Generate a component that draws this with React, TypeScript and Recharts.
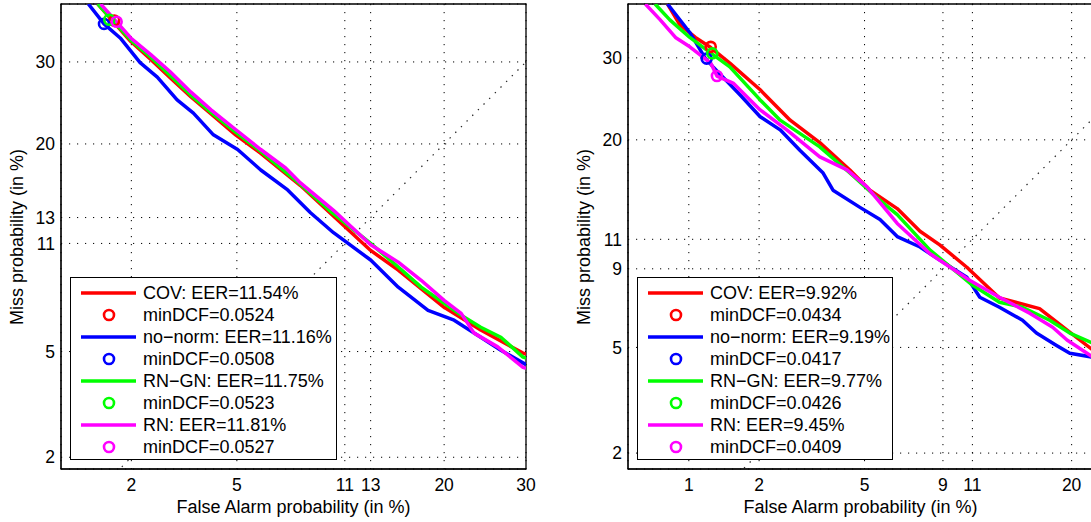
import React from "react";
import {
  ComposedChart,
  Line,
  Scatter,
  XAxis,
  YAxis,
  CartesianGrid,
  ReferenceArea,
} from "recharts";

const COLORS = {
  cov: "#ff0000",
  noNorm: "#0000ff",
  rnGn: "#00ff00",
  rn: "#ff00ff",
};

const FONT = "'Liberation Sans', Arial, Helvetica, sans-serif";

// left panel: false alarm % / miss %
const leftCovFa = [1.45, 1.99, 2.4, 2.85, 3.41, 4.05, 4.95, 6.03, 8.1, 10.3, 13.0, 15.4, 20.0, 24.2, 29.6, 30];
const leftCovMiss = [38.2, 32.8, 30.3, 27.9, 25.5, 23.4, 21.0, 19.0, 15.8, 13.0, 10.5, 9.18, 7.03, 5.92, 4.94, 4.9];
const leftNoNormFa = [1.32, 1.54, 1.8, 2.17, 2.54, 3.03, 3.49, 4.13, 5.03, 6.03, 7.38, 8.7, 10.2, 13.0, 15.4, 18.3, 21.1, 24.2, 26.7, 30];
const leftNoNormMiss = [38.2, 35.3, 33.3, 29.9, 28.0, 25.1, 23.5, 21.0, 19.4, 17.3, 15.4, 13.4, 11.8, 9.84, 8.14, 6.87, 6.38, 5.6, 5.05, 4.5];
const leftRnGnFa = [1.45, 1.99, 2.4, 2.85, 3.41, 4.05, 4.95, 6.03, 8.1, 10.1, 13.0, 15.4, 17.6, 20.0, 21.9, 24.2, 26.7, 29.6, 30];
const leftRnGnMiss = [38.2, 33.0, 30.6, 28.2, 25.7, 23.6, 21.3, 19.2, 15.9, 13.4, 11.0, 9.38, 8.14, 7.24, 6.63, 6.05, 5.6, 4.78, 4.75];
const leftRnFa = [1.49, 1.74, 1.99, 2.4, 2.85, 3.41, 4.05, 4.95, 6.03, 7.27, 8.1, 10.2, 13.0, 15.4, 17.6, 20.0, 21.9, 23.4, 26.3, 29.6, 30];
const leftRnMiss = [38.2, 35.6, 33.3, 30.95, 28.7, 26.1, 23.9, 21.6, 19.4, 17.5, 16.05, 13.6, 10.9, 9.7, 8.55, 7.4, 6.72, 5.78, 5.19, 4.4, 4.37];
// minDCF points, order: COV, no-norm, RN-GN, RN
const leftDcfFa = [1.7, 1.54, 1.62, 1.74];
const leftDcfMiss = [35.8, 35.3, 35.9, 35.6];

// right panel
const rightCovFa = [0.8, 0.91, 1.07, 1.25, 1.51, 2.02, 2.66, 3.45, 4.44, 5.22, 6.45, 7.64, 8.8, 10.6, 13.1, 16.7, 19.1, 22.4];
const rightCovMiss = [37.6, 34.6, 32.8, 31.4, 29.3, 25.85, 22.2, 19.7, 16.9, 15.0, 13.4, 11.6, 10.6, 9.1, 7.3, 6.75, 5.86, 4.89];
const rightNoNormFa = [0.8, 1.01, 1.18, 1.28, 1.67, 2.02, 2.43, 2.9, 3.55, 3.86, 4.82, 5.65, 6.45, 7.64, 8.8, 10.6, 11.55, 13.1, 15.1, 16.4, 18.4, 19.8, 22.4];
const rightNoNormMiss = [37.6, 33.5, 30.0, 28.8, 25.2, 22.6, 21.1, 18.9, 16.6, 15.0, 13.5, 12.5, 11.2, 10.45, 9.56, 8.49, 7.34, 6.82, 6.18, 5.6, 5.08, 4.77, 4.62];
const rightRnGnFa = [0.7, 0.82, 1.01, 1.27, 1.51, 2.02, 2.43, 3.45, 4.44, 5.65, 6.45, 8.2, 11.0, 13.1, 15.1, 17.7, 19.8, 22.4];
const rightRnGnMiss = [37.6, 35.3, 32.8, 30.5, 28.8, 24.6, 22.2, 19.25, 16.6, 14.1, 12.9, 10.25, 8.02, 7.08, 6.82, 6.18, 5.6, 5.17];
const rightRnFa = [0.63, 0.74, 0.87, 1.01, 1.25, 1.33, 1.56, 2.02, 2.58, 3.45, 4.34, 5.1, 6.45, 8.2, 10.8, 13.1, 15.8, 18.0, 19.5, 22.4];
const rightRnMiss = [37.6, 35.3, 32.8, 31.5, 29.3, 27.6, 26.7, 23.4, 21.1, 18.2, 16.9, 15.3, 12.2, 10.0, 8.3, 7.34, 6.51, 5.86, 5.3, 4.62];
const rightDcfFa = [1.25, 1.2, 1.27, 1.33];
const rightDcfMiss = [31.5, 29.9, 30.6, 27.6];

const leftTicksX = [2, 5, 11, 13, 20, 30];
const leftTicksY = [2, 5, 11, 13, 20, 30];
const rightTicksX = [1, 2, 5, 9, 11, 20];
const rightTicksY = [2, 5, 9, 11, 20, 30];

const leftLegend = [
  "COV: EER=11.54%",
  "minDCF=0.0524",
  "no\u2212norm: EER=11.16%",
  "minDCF=0.0508",
  "RN\u2212GN: EER=11.75%",
  "minDCF=0.0523",
  "RN: EER=11.81%",
  "minDCF=0.0527",
];
const rightLegend = [
  "COV: EER=9.92%",
  "minDCF=0.0434",
  "no\u2212norm: EER=9.19%",
  "minDCF=0.0417",
  "RN\u2212GN: EER=9.77%",
  "minDCF=0.0426",
  "RN: EER=9.45%",
  "minDCF=0.0409",
];

// inverse normal cdf (Acklam)
function probit(p: number): number {
  const a = [-39.69683028665376, 220.9460984245205, -275.9285104469687, 138.357751867269, -30.66479806614716, 2.506628277459239];
  const b = [-54.47609879822406, 161.5858368580409, -155.6989798598866, 66.80131188771972, -13.28068155288572];
  const c = [-0.007784894002430293, -0.3223964580411365, -2.400758277161838, -2.549732539343734, 4.374664141464968, 2.938163982698783];
  const d = [0.007784695709041462, 0.3224671290700398, 2.445134137142996, 3.754408661907416];
  const pl = 0.02425;
  if (p < pl) {
    const q = Math.sqrt(-2 * Math.log(p));
    return (((((c[0] * q + c[1]) * q + c[2]) * q + c[3]) * q + c[4]) * q + c[5]) / ((((d[0] * q + d[1]) * q + d[2]) * q + d[3]) * q + 1);
  }
  if (p <= 1 - pl) {
    const q = p - 0.5;
    const r = q * q;
    return ((((((a[0] * r + a[1]) * r + a[2]) * r + a[3]) * r + a[4]) * r + a[5]) * q) / (((((b[0] * r + b[1]) * r + b[2]) * r + b[3]) * r + b[4]) * r + 1);
  }
  const q = Math.sqrt(-2 * Math.log(1 - p));
  return -(((((c[0] * q + c[1]) * q + c[2]) * q + c[3]) * q + c[4]) * q + c[5]) / ((((d[0] * q + d[1]) * q + d[2]) * q + d[3]) * q + 1);
}

const toPoints = (fa: number[], miss: number[]) =>
  fa.map((f, i) => ({ x: probit(f / 100), y: probit(miss[i] / 100) }));

const formatter = (ticks: number[]) => (v: number) => {
  const t = ticks.find((t) => Math.abs(probit(t / 100) - v) < 1e-6);
  return t === undefined ? "" : String(t);
};

const Circle = (color: string) => (props: any) =>
  <circle cx={props.cx} cy={props.cy} r={5} fill="none" stroke={color} strokeWidth={2.6} />;

interface DetPanelProps {
  width: number;
  margin: { top: number; right: number; bottom: number; left: number };
  xDomain: [number, number];
  yDomain: [number, number];
  ticksX: number[];
  ticksY: number[];
  series: { fa: number[]; miss: number[]; color: string }[];
  dcfFa: number[];
  dcfMiss: number[];
}

function DetPanel({ width, margin, xDomain, yDomain, ticksX, ticksY, series, dcfFa, dcfMiss }: DetPanelProps) {
  const xd = [probit(xDomain[0] / 100), probit(xDomain[1] / 100)];
  const yd = [probit(yDomain[0] / 100), probit(yDomain[1] / 100)];
  const diag = [
    { x: probit(0.003), y: probit(0.003) },
    { x: probit(0.5), y: probit(0.5) },
  ];
  const tickStyle = { fontSize: 17.5, fill: "#000", fontFamily: FONT };
  return (
    <ComposedChart width={width} height={522} margin={margin}>
      <CartesianGrid stroke="#000" strokeDasharray="1.2 6.8" strokeWidth={1} />
      <XAxis
        type="number"
        dataKey="x"
        domain={xd}
        allowDataOverflow
        ticks={ticksX.map((t) => probit(t / 100))}
        tickFormatter={formatter(ticksX)}
        interval={0}
        tick={tickStyle}
        tickLine={false}
        tickSize={0}
        tickMargin={10}
        height={30}
        axisLine={{ stroke: "#000" }}
      />
      <YAxis
        type="number"
        dataKey="y"
        domain={yd}
        allowDataOverflow
        ticks={ticksY.map((t) => probit(t / 100))}
        tickFormatter={formatter(ticksY)}
        interval={0}
        tick={tickStyle}
        tickLine={false}
        tickSize={0}
        tickMargin={6}
        width={40}
        axisLine={{ stroke: "#000" }}
      />
      <ReferenceArea x1={xd[0]} x2={xd[1]} y1={yd[0]} y2={yd[1]} fill="none" stroke="#000" strokeWidth={1.3} />
      <Line data={diag} dataKey="y" stroke="#222" strokeWidth={1.2} strokeDasharray="1.4 6.6" dot={false} isAnimationActive={false} />
      {series.map((s, i) => (
        <Line
          key={`line-${i}`}
          data={toPoints(s.fa, s.miss)}
          dataKey="y"
          stroke={s.color}
          strokeWidth={3.5}
          strokeLinejoin="round"
          dot={false}
          isAnimationActive={false}
        />
      ))}
      {series.map((s, i) => (
        <Scatter
          key={`dcf-${i}`}
          data={[{ x: probit(dcfFa[i] / 100), y: probit(dcfMiss[i] / 100) }]}
          dataKey="y"
          shape={Circle(s.color)}
          isAnimationActive={false}
        />
      ))}
    </ComposedChart>
  );
}

function LegendBox({ left, width, items, colors }: { left: number; width: number; items: string[]; colors: string[] }) {
  return (
    <div
      style={{
        position: "absolute",
        left,
        top: 277,
        width,
        height: 183,
        background: "#fff",
        border: "1.3px solid #000",
        boxSizing: "border-box",
        fontFamily: FONT,
        fontSize: 18,
        color: "#000",
      }}
    >
      {items.map((label, i) => {
        const color = colors[Math.floor(i / 2)];
        const isLine = i % 2 === 0;
        return (
          <div key={i} style={{ position: "absolute", left: 0, top: 4 + i * 22, height: 22, width: "100%" }}>
            <svg width={70} height={22} style={{ position: "absolute", left: 0, top: 0 }}>
              {isLine ? (
                <line x1={10} x2={65} y1={11} y2={11} stroke={color} strokeWidth={3.5} />
              ) : (
                <circle cx={38} cy={11} r={5} fill="none" stroke={color} strokeWidth={2.6} />
              )}
            </svg>
            <span style={{ position: "absolute", left: 72, top: 0, lineHeight: "22px", whiteSpace: "nowrap" }}>{label}</span>
          </div>
        );
      })}
    </div>
  );
}

const axisLabel: React.CSSProperties = {
  position: "absolute",
  fontFamily: FONT,
  fontSize: 18,
  lineHeight: "20px",
  height: 20,
  width: 320,
  textAlign: "center",
  color: "#000",
  whiteSpace: "nowrap",
};

export default function App() {
  const colors = [COLORS.cov, COLORS.noNorm, COLORS.rnGn, COLORS.rn];
  return (
    <div style={{ position: "absolute", left: 0, top: 0, width: 1091, height: 522, overflow: "hidden", background: "#fff" }}>
      <div style={{ position: "absolute", left: 0, top: 0 }}>
        <DetPanel
          width={545}
          margin={{ top: 4, right: 19, bottom: 23, left: 21 }}
          xDomain={[1, 30]}
          yDomain={[1.79, 38.2]}
          ticksX={leftTicksX}
          ticksY={leftTicksY}
          series={[
            { fa: leftCovFa, miss: leftCovMiss, color: COLORS.cov },
            { fa: leftNoNormFa, miss: leftNoNormMiss, color: COLORS.noNorm },
            { fa: leftRnGnFa, miss: leftRnGnMiss, color: COLORS.rnGn },
            { fa: leftRnFa, miss: leftRnMiss, color: COLORS.rn },
          ]}
          dcfFa={leftDcfFa}
          dcfMiss={leftDcfMiss}
        />
      </div>
      <div style={{ position: "absolute", left: 560, top: 0 }}>
        <DetPanel
          width={560}
          margin={{ top: 4, right: 27, bottom: 23, left: 28 }}
          xDomain={[0.52, 22.4]}
          yDomain={[1.72, 37.6]}
          ticksX={rightTicksX}
          ticksY={rightTicksY}
          series={[
            { fa: rightCovFa, miss: rightCovMiss, color: COLORS.cov },
            { fa: rightNoNormFa, miss: rightNoNormMiss, color: COLORS.noNorm },
            { fa: rightRnGnFa, miss: rightRnGnMiss, color: COLORS.rnGn },
            { fa: rightRnFa, miss: rightRnMiss, color: COLORS.rn },
          ]}
          dcfFa={rightDcfFa}
          dcfMiss={rightDcfMiss}
        />
      </div>
      <LegendBox left={70} width={267} items={leftLegend} colors={colors} />
      <LegendBox left={637} width={256} items={rightLegend} colors={colors} />
      <div style={{ ...axisLabel, left: 293.5 - 160, top: 497 }}>False Alarm probability (in %)</div>
      <div style={{ ...axisLabel, left: 860.5 - 160, top: 497 }}>False Alarm probability (in %)</div>
      <div style={{ ...axisLabel, left: 16.5 - 160, top: 236.5 - 10, transform: "rotate(-90deg)" }}>Miss probability (in %)</div>
      <div style={{ ...axisLabel, left: 583.5 - 160, top: 236.5 - 10, transform: "rotate(-90deg)" }}>Miss probability (in %)</div>
    </div>
  );
}
